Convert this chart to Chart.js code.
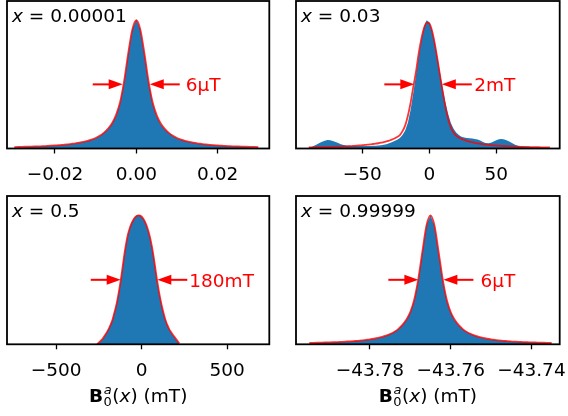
<!DOCTYPE html>
<html>
<head>
<meta charset="utf-8">
<script src="https://cdn.jsdelivr.net/npm/chart.js@4/dist/chart.umd.min.js"></script>
<style>
  html, body { margin: 0; padding: 0; background: #fff; }
  #wrap { position: relative; width: 568px; height: 416px; overflow: hidden; }
  canvas { position: absolute; }
</style>
</head>
<body>
<div id="wrap">
  <canvas id="c1" width="284" height="190" style="left:0px;top:0px"></canvas>
  <canvas id="c2" width="284" height="190" style="left:284px;top:0px"></canvas>
  <canvas id="c3" width="284" height="226" style="left:0px;top:190px"></canvas>
  <canvas id="c4" width="284" height="226" style="left:284px;top:190px"></canvas>
</div>
<script>
// ---------- data (peak normalised to 1) ----------
const p1Title = '0.00001';
const p1X = [-0.030,-0.029,-0.028,-0.027,-0.026,-0.025,-0.024,-0.023,-0.022,-0.021,-0.020,-0.019,-0.018,-0.017,-0.016,-0.015,-0.014,-0.013,-0.012,-0.011,-0.010,-0.009,-0.008,-0.007,-0.006,-0.005,-0.004,-0.003,-0.002,-0.001,0.000,0.001,0.002,0.003,0.004,0.005,0.006,0.007,0.008,0.009,0.010,0.011,0.012,0.013,0.014,0.015,0.016,0.017,0.018,0.019,0.020,0.021,0.022,0.023,0.024,0.025,0.026,0.027,0.028,0.029,0.030];
const p1Hist = [0.006,0.009,0.010,0.012,0.013,0.015,0.016,0.018,0.019,0.021,0.023,0.026,0.028,0.031,0.035,0.039,0.044,0.050,0.058,0.068,0.080,0.097,0.120,0.150,0.192,0.255,0.355,0.52,0.74,0.93,1.005,0.93,0.735,0.52,0.355,0.255,0.19,0.15,0.12,0.097,0.080,0.068,0.058,0.050,0.044,0.039,0.035,0.031,0.028,0.026,0.023,0.021,0.019,0.017,0.016,0.015,0.013,0.012,0.010,0.008,0.005];
const p1Fit = [0.011,0.012,0.013,0.014,0.015,0.016,0.017,0.018,0.020,0.022,0.024,0.026,0.029,0.032,0.036,0.040,0.045,0.051,0.059,0.069,0.082,0.099,0.122,0.153,0.195,0.26,0.36,0.525,0.74,0.925,1.0,0.925,0.74,0.525,0.36,0.26,0.195,0.153,0.122,0.099,0.082,0.069,0.059,0.051,0.045,0.040,0.036,0.032,0.029,0.026,0.024,0.022,0.020,0.018,0.017,0.016,0.015,0.014,0.013,0.012,0.011];
const p1Ticks = [-0.02, 0, 0.02];
const p1TickLabels = ['\u22120.02', '0.00', '0.02'];
const p1Fwhm = [-0.00335, 0.0033];
const p1Width = '6\u03bcT';

const p2Title = '0.03';
const p2X = [-90,-88,-86,-84,-82,-80,-78,-76,-74,-72,-70,-68,-66,-64,-62,-60,-58,-56,-54,-52,-50,-48,-46,-44,-42,-40,-38,-36,-34,-32,-30,-28,-26,-24,-22,-20,-18,-16,-14,-12,-10,-8,-6,-4,-2,0,2,4,6,8,10,12,14,16,18,20,22,24,26,28,30,32,34,36,38,40,42,44,46,48,50,52,54,56,58,60,62,64,66,68,70,72,74,76,78,80,82,84,86,88,90];
const p2Hist = [0.005,0.012,0.022,0.032,0.042,0.052,0.060,0.066,0.064,0.058,0.050,0.042,0.034,0.028,0.024,0.022,0.020,0.020,0.019,0.019,0.019,0.019,0.020,0.020,0.021,0.022,0.024,0.026,0.030,0.034,0.040,0.048,0.058,0.068,0.082,0.105,0.140,0.200,0.300,0.430,0.570,0.720,0.850,0.945,1.000,0.985,0.925,0.830,0.715,0.590,0.470,0.360,0.270,0.200,0.155,0.125,0.105,0.092,0.085,0.082,0.080,0.078,0.075,0.070,0.062,0.050,0.042,0.040,0.045,0.055,0.065,0.072,0.074,0.070,0.062,0.052,0.040,0.030,0.022,0.016,0.013,0.011,0.010,0.009,0.008,0.007,0.006,0.005,0.004,0.003,0.002];
const p2Fit = [0.008,0.009,0.009,0.010,0.010,0.011,0.011,0.012,0.012,0.013,0.014,0.014,0.015,0.016,0.017,0.018,0.019,0.021,0.022,0.024,0.026,0.028,0.030,0.032,0.035,0.038,0.041,0.045,0.050,0.055,0.062,0.069,0.078,0.090,0.105,0.135,0.180,0.255,0.355,0.478,0.595,0.738,0.853,0.938,0.982,0.975,0.918,0.822,0.700,0.568,0.442,0.325,0.232,0.167,0.125,0.100,0.086,0.075,0.067,0.060,0.054,0.049,0.044,0.040,0.037,0.034,0.031,0.029,0.027,0.025,0.023,0.022,0.020,0.019,0.018,0.017,0.016,0.015,0.014,0.013,0.013,0.012,0.012,0.011,0.011,0.010,0.010,0.009,0.009,0.008,0.008];
const p2Ticks = [-50, 0, 50];
const p2TickLabels = ['\u221250', '0', '50'];
const p2Fwhm = [-11.2, 9.3];
const p2Width = '2mT';

const p3Title = '0.5';
const p3X = [-260,-250,-240,-230,-220,-210,-200,-190,-180,-170,-160,-150,-140,-130,-120,-110,-100,-90,-80,-70,-60,-50,-40,-30,-20,-10,0,10,20,30,40,50,60,70,80,90,100,110,120,130,140,150,160,170,180,190,200,210,220];
const p3Hist = [0.0,0.012,0.024,0.038,0.058,0.080,0.103,0.130,0.160,0.197,0.248,0.298,0.362,0.438,0.522,0.618,0.712,0.792,0.858,0.905,0.94,0.966,0.986,0.998,1.003,1.0,0.99,0.974,0.95,0.917,0.874,0.822,0.758,0.678,0.588,0.498,0.418,0.347,0.285,0.232,0.186,0.149,0.12,0.096,0.076,0.058,0.040,0.022,0.004];
const p3Fit = [0.0,0.014,0.027,0.041,0.060,0.080,0.102,0.128,0.158,0.195,0.245,0.295,0.36,0.435,0.52,0.615,0.71,0.79,0.855,0.90,0.935,0.962,0.982,0.995,1.0,0.998,0.989,0.972,0.948,0.915,0.872,0.82,0.755,0.675,0.585,0.495,0.415,0.345,0.283,0.23,0.185,0.148,0.12,0.097,0.078,0.060,0.042,0.025,0.006];
const p3Ticks = [-500, 0, 500];
const p3TickLabels = ['\u2212500', '0', '500'];
const p3Fwhm = [-122.8, 91.2];
const p3Width = '180mT';

const p4Title = '0.99999';
const p4X = [-43.795,-43.794,-43.793,-43.792,-43.791,-43.790,-43.789,-43.788,-43.787,-43.786,-43.785,-43.784,-43.783,-43.782,-43.781,-43.780,-43.779,-43.778,-43.777,-43.776,-43.775,-43.774,-43.773,-43.772,-43.771,-43.770,-43.769,-43.768,-43.767,-43.766,-43.765,-43.764,-43.763,-43.762,-43.761,-43.760,-43.759,-43.758,-43.757,-43.756,-43.755,-43.754,-43.753,-43.752,-43.751,-43.750,-43.749,-43.748,-43.747,-43.746,-43.745,-43.744,-43.743,-43.742,-43.741,-43.740,-43.739,-43.738,-43.737,-43.736,-43.735];
const p4Hist = [0.005,0.008,0.010,0.012,0.013,0.014,0.016,0.017,0.018,0.020,0.022,0.024,0.027,0.030,0.033,0.037,0.042,0.048,0.056,0.066,0.079,0.095,0.117,0.147,0.188,0.248,0.345,0.505,0.72,0.925,1.0,0.92,0.715,0.505,0.345,0.248,0.187,0.146,0.117,0.095,0.079,0.066,0.056,0.048,0.042,0.037,0.033,0.030,0.027,0.024,0.022,0.020,0.018,0.017,0.016,0.014,0.013,0.012,0.010,0.008,0.005];
const p4Fit = [0.010,0.011,0.012,0.013,0.014,0.015,0.016,0.017,0.019,0.021,0.023,0.025,0.027,0.030,0.034,0.038,0.043,0.049,0.057,0.067,0.080,0.096,0.118,0.148,0.19,0.25,0.35,0.51,0.72,0.92,1.0,0.92,0.72,0.51,0.35,0.25,0.19,0.148,0.118,0.096,0.080,0.067,0.057,0.049,0.043,0.038,0.034,0.030,0.027,0.025,0.023,0.021,0.019,0.017,0.016,0.015,0.014,0.013,0.012,0.011,0.010];
const p4Ticks = [-43.78, -43.76, -43.74];
const p4TickLabels = ['\u221243.78', '\u221243.76', '\u221243.74'];
const p4Fwhm = [-43.7680, -43.7618];
const p4Width = '6\u03bcT';

const halfLevel = 0.5;

// ---------- layout / style ----------
const FONT = '"DejaVu Sans", "Liberation Sans", sans-serif';
const FS = 18.5;
const BLUE = '#1f77b4';
const RED = '#ff0000';

const panels = [
  { id: 'c1', w: 284, h: 190, area: { l: 7, t: 1, r: 269.3, b: 148.5 }, x: p1X, hist: p1Hist, fit: p1Fit,
    xmin: -0.0318, xmax: 0.0327, ticks: p1Ticks, tickLabels: p1TickLabels, title: p1Title, fwhm: p1Fwhm, width: p1Width, gap: 6, xlabel: false },
  { id: 'c2', w: 284, h: 190, area: { l: 12, t: 1, r: 275.7, b: 148.5 }, x: p2X, hist: p2Hist, fit: p2Fit,
    xmin: -99.5, xmax: 97.3, ticks: p2Ticks, tickLabels: p2TickLabels, title: p2Title, fwhm: p2Fwhm, width: p2Width, gap: 2.5, xlabel: false },
  { id: 'c3', w: 284, h: 226, area: { l: 7, t: 6, r: 269.3, b: 154.3 }, x: p3X, hist: p3Hist, fit: p3Fit,
    xmin: -787.7, xmax: 746, ticks: p3Ticks, tickLabels: p3TickLabels, title: p3Title, fwhm: p3Fwhm, width: p3Width, gap: 2, xlabel: true },
  { id: 'c4', w: 284, h: 226, area: { l: 12, t: 6, r: 275.7, b: 154.3 }, x: p4X, hist: p4Hist, fit: p4Fit,
    xmin: -43.7983, xmax: -43.7330, ticks: p4Ticks, tickLabels: p4TickLabels, title: p4Title, fwhm: p4Fwhm, width: p4Width, gap: 7, xlabel: true }
];

function drawArrow(ctx, tailX, tipX, y) {
  const dir = Math.sign(tipX - tailX);
  const headLen = 14, headHalf = 5;
  ctx.beginPath();
  ctx.moveTo(tailX, y);
  ctx.lineTo(tipX - dir * headLen * 0.8, y);
  ctx.lineWidth = 2;
  ctx.strokeStyle = RED;
  ctx.stroke();
  ctx.beginPath();
  ctx.moveTo(tipX, y);
  ctx.lineTo(tipX - dir * headLen, y - headHalf);
  ctx.lineTo(tipX - dir * headLen, y + headHalf);
  ctx.closePath();
  ctx.fillStyle = RED;
  ctx.fill();
}

function makeDecor(cfg) {
  return {
    id: 'decor_' + cfg.id,
    afterDraw(chart) {
      const ctx = chart.ctx;
      const a = chart.chartArea;
      const xs = chart.scales.x, ys = chart.scales.y;
      ctx.save();
      // frame
      ctx.strokeStyle = '#000';
      ctx.lineWidth = 1.8;
      ctx.strokeRect(a.left, a.top, a.right - a.left, a.bottom - a.top);
      // title: italic x = value
      ctx.fillStyle = '#000';
      ctx.textBaseline = 'alphabetic';
      ctx.textAlign = 'left';
      const tx = a.left + 5, ty = a.top + 21.3;
      ctx.font = 'italic ' + FS + 'px ' + FONT;
      ctx.fillText('x', tx, ty);
      const wx = ctx.measureText('x').width;
      ctx.font = FS + 'px ' + FONT;
      ctx.fillText(' = ' + cfg.title, tx + wx, ty);
      // FWHM arrows
      const y = ys.getPixelForValue(halfLevel);
      const tipL = xs.getPixelForValue(cfg.fwhm[0]);
      const tipR = xs.getPixelForValue(cfg.fwhm[1]);
      drawArrow(ctx, tipL - 30, tipL, y);
      drawArrow(ctx, tipR + 30, tipR, y);
      ctx.fillStyle = RED;
      ctx.font = FS + 'px ' + FONT;
      ctx.fillText(cfg.width, tipR + 30 + cfg.gap, y + 6.8);
      // x-axis label  B_0^a(x) (mT)
      if (cfg.xlabel) {
        const base = a.bottom + 57.4;
        const small = 13;
        ctx.fillStyle = '#000';
        const fB = 'bold ' + FS + 'px ' + FONT;
        const fSub = small + 'px ' + FONT;
        const fSup = 'italic ' + small + 'px ' + FONT;
        const fN = FS + 'px ' + FONT;
        const fI = 'italic ' + FS + 'px ' + FONT;
        ctx.font = fB; const wB = ctx.measureText('B').width;
        ctx.font = fSub; const w0 = ctx.measureText('0').width;
        ctx.font = fSup; const wa = ctx.measureText('a').width;
        const wS = Math.max(w0, wa) + 1;
        ctx.font = fN; const wP1 = ctx.measureText('(').width;
        ctx.font = fI; const wXi = ctx.measureText('x').width;
        ctx.font = fN; const wRest = ctx.measureText(') (mT)').width;
        const total = wB + wS + wP1 + wXi + wRest;
        let cx = (a.left + a.right) / 2 - total / 2;
        ctx.font = fB; ctx.fillText('B', cx, base); cx += wB;
        ctx.font = fSub; ctx.fillText('0', cx + 0.5, base + 4.5);
        ctx.font = fSup; ctx.fillText('a', cx + 0.8, base - 7.8); cx += wS;
        ctx.font = fN; ctx.fillText('(', cx, base); cx += wP1;
        ctx.font = fI; ctx.fillText('x', cx, base); cx += wXi;
        ctx.font = fN; ctx.fillText(') (mT)', cx, base);
      }
      ctx.restore();
    }
  };
}

panels.forEach(cfg => {
  const histData = cfg.x.map((v, i) => ({ x: v, y: cfg.hist[i] }));
  const fitData = cfg.x.map((v, i) => ({ x: v, y: cfg.fit[i] }));
  new Chart(document.getElementById(cfg.id), {
    type: 'line',
    data: {
      datasets: [
        { label: 'fit', data: fitData, order: 0, borderColor: 'rgba(255,0,0,0.8)', borderWidth: 1.8,
          pointRadius: 0, fill: false, cubicInterpolationMode: 'monotone' },
        { label: 'hist', data: histData, order: 1, backgroundColor: BLUE, borderColor: BLUE, borderWidth: 0,
          pointRadius: 0, fill: 'origin', tension: 0 }
      ]
    },
    options: {
      responsive: false,
      animation: false,
      devicePixelRatio: 1,
      events: [],
      layout: { padding: { left: cfg.area.l, top: cfg.area.t, right: cfg.w - cfg.area.r, bottom: 0 } },
      plugins: { legend: { display: false }, tooltip: { enabled: false } },
      scales: {
        x: {
          type: 'linear',
          min: cfg.xmin,
          max: cfg.xmax,
          afterBuildTicks: (scale) => { scale.ticks = cfg.ticks.map(v => ({ value: v })); },
          afterFit: (scale) => { scale.height = cfg.h - cfg.area.b; scale.paddingLeft = 0; scale.paddingRight = 0; },
          grid: { display: true, drawOnChartArea: false, drawTicks: true, tickLength: 5, tickWidth: 1.3, tickColor: '#000' },
          border: { display: false },
          ticks: {
            autoSkip: false, maxRotation: 0, minRotation: 0, padding: 11, color: '#000',
            font: { family: FONT, size: FS },
            callback: (v, i) => cfg.tickLabels[i]
          }
        },
        y: { display: false, min: 0, max: 1.15 }
      }
    },
    plugins: [makeDecor(cfg)]
  });
});
</script>
</body>
</html>
